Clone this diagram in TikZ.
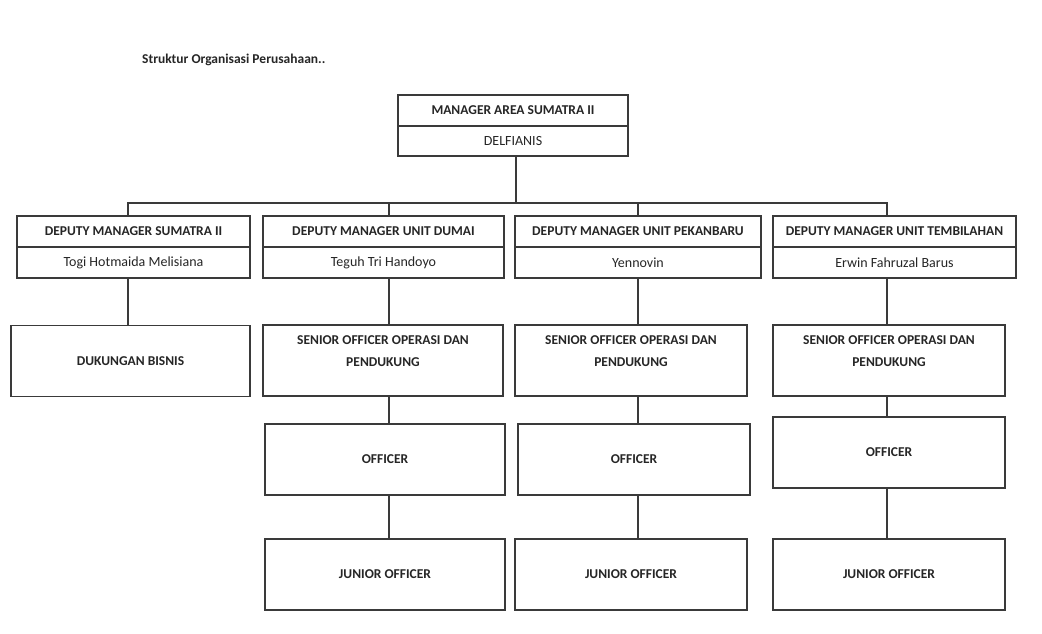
\documentclass[tikz,border=0pt]{standalone}
\usepackage{fontspec}
\setmainfont{Carlito}
\definecolor{ln}{HTML}{3A3A3A}
\definecolor{tx}{HTML}{262626}
\tikzset{
  box/.style={draw=ln, line width=1.3pt, rectangle, inner sep=0pt, align=center, text=tx},
  head/.style={box, font=\bfseries\fontsize{13.5}{16}\selectfont, minimum height=31pt},
  nm/.style={box, font=\fontsize{14}{16}\selectfont, minimum height=31pt},
  unit/.style={box, font=\bfseries\fontsize{13.5}{22}\selectfont, minimum height=71pt},
  ulab/.style={font=\bfseries\fontsize{13.5}{22}\selectfont, align=center, text=tx, inner sep=0pt},
  link/.style={draw=ln, line width=1.3pt},
}
\begin{document}
\begin{tikzpicture}[x=1pt,y=-1pt]
\useasboundingbox[fill=white] (0,0) rectangle (1042,633);

\node[anchor=west, inner sep=0pt, text=tx, font=\bfseries\fontsize{13.5}{16}\selectfont] (title) at (142,60) {Struktur Organisasi Perusahaan..};

% top
\node[head, minimum width=230pt] (mt) at (513,110.5) {MANAGER AREA SUMATRA II};
\node[nm, minimum width=230pt, minimum height=30pt] (mn) at (513,141) {DELFIANIS};

% deputies
\node[head, minimum width=233pt] (d1t) at (133.5,231.5) {DEPUTY MANAGER SUMATRA II};
\node[nm,   minimum width=233pt] (d1n) at (133.5,262.5) {Togi Hotmaida Melisiana};
\node[head, minimum width=241pt] (d2t) at (383.5,231.5) {DEPUTY MANAGER UNIT DUMAI};
\node[nm,   minimum width=241pt] (d2n) at (383.5,262.5) {Teguh Tri Handoyo};
\node[head, minimum width=246pt] (d3t) at (638,231.5) {DEPUTY MANAGER UNIT PEKANBARU};
\node[nm,   minimum width=246pt] (d3n) at (638,262.5) {Yennovin};
\node[head, minimum width=243pt] (d4t) at (894.5,231.5) {DEPUTY MANAGER UNIT TEMBILAHAN};
\node[nm,   minimum width=243pt] (d4n) at (894.5,262.5) {Erwin Fahruzal Barus};

% second row
\node[unit, minimum width=239pt] (s1) at (130.5,361) {DUKUNGAN BISNIS};
\node[unit, minimum width=240pt, label={[ulab, yshift=9.5pt]center:SENIOR OFFICER OPERASI DAN\\PENDUKUNG}] (s2) at (383,360.5) {};
\node[unit, minimum width=232pt, label={[ulab, yshift=9.5pt]center:SENIOR OFFICER OPERASI DAN\\PENDUKUNG}] (s3) at (631,360.5) {};
\node[unit, minimum width=232pt, label={[ulab, yshift=9.5pt]center:SENIOR OFFICER OPERASI DAN\\PENDUKUNG}] (s4) at (889,360.5) {};

% third row
\node[unit, minimum width=240pt] (o2) at (385,459.5) {OFFICER};
\node[unit, minimum width=232pt] (o3) at (634,459.5) {OFFICER};
\node[unit, minimum width=232pt] (o4) at (889,452.5) {OFFICER};

% fourth row
\node[unit, minimum width=240pt] (j2) at (385,574.5) {JUNIOR OFFICER};
\node[unit, minimum width=232pt] (j3) at (631,574.5) {JUNIOR OFFICER};
\node[unit, minimum width=232pt] (j4) at (889,574.5) {JUNIOR OFFICER};

% connectors
\coordinate (bus) at (516,203);
\coordinate (b1) at (128,203);
\coordinate (b2) at (389,203);
\coordinate (b3) at (638,203);
\coordinate (b4) at (887,203);
\draw[link] (mn.south -| bus) -- (bus);
\draw[link] (d1t.north -| b1) -- (b1) -- (b4) -- (d4t.north -| b4);
\draw[link] (b2) -- (d2t.north -| b2);
\draw[link] (b3) -- (d3t.north -| b3);

\draw[link] (d1n.south -| b1) -- (s1.north -| b1);
\draw[link] (d2n.south -| b2) -- (s2.north -| b2);
\draw[link] (s2.south -| b2) -- (o2.north -| b2);
\draw[link] (o2.south -| b2) -- (j2.north -| b2);
\draw[link] (d3n.south -| b3) -- (s3.north -| b3);
\draw[link] (s3.south -| b3) -- (o3.north -| b3);
\draw[link] (o3.south -| b3) -- (j3.north -| b3);
\draw[link] (d4n.south -| b4) -- (s4.north -| b4);
\draw[link] (s4.south -| b4) -- (o4.north -| b4);
\draw[link] (o4.south -| b4) -- (j4.north -| b4);
\end{tikzpicture}
\end{document}
